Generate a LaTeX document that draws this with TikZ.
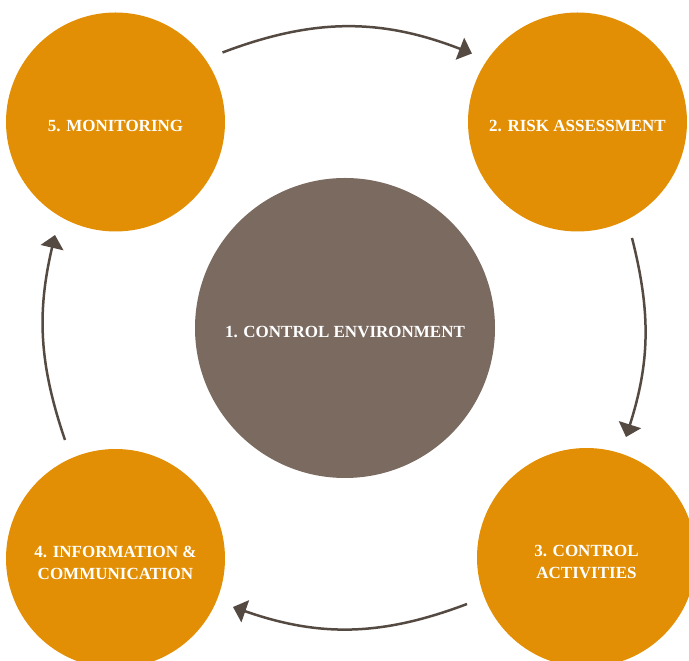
\documentclass[tikz,border=0pt]{standalone}
\usepackage{fontspec}
\setmainfont{Liberation Serif}
\usetikzlibrary{arrows.meta}

\definecolor{stepfill}{RGB}{227,143,5}
\definecolor{corefill}{RGB}{122,106,96}
\definecolor{arrowline}{RGB}{84,74,66}

\tikzset{stepball/.style={circle,fill=stepfill,minimum size=219pt,inner sep=0pt},
  steptext/.style={text=white,align=center,yshift=-4.5pt,
    font=\bfseries\fontsize{17}{22}\selectfont}}

\begin{document}
\begin{tikzpicture}[x=1pt,y=1pt]

      \useasboundingbox (0,0) rectangle (689,661);
      \clip (0,0) rectangle (689,661);

      \begin{scope}[every label/.style={steptext}]
        \node[stepball,label=center:{5. MONITORING}] (monitor) at (115.5,539) {};
        \node[stepball,label=center:{2. RISK ASSESSMENT}] (risk) at (577.5,539) {};
        \node[stepball,label=center:{3. CONTROL\\ACTIVITIES}] (activ) at (586.5,103.5) {};
        \node[stepball,label=center:{4. INFORMATION \&\\COMMUNICATION}] (info) at (115.5,102.5) {};
        \node[stepball,fill=corefill,minimum size=300pt,
          label=center:{1. CONTROL ENVIRONMENT}] (env) at (345,333) {};
      \end{scope}

      % free ends of the arrows
      \coordinate (m1) at (222.5,608.5);
      \coordinate (r1) at (472,607.5);
      \coordinate (r2) at (632,423);
      \coordinate (a1) at (626,224);
      \coordinate (a2) at (467,57);
      \coordinate (i1) at (233,54);
      \coordinate (i2) at (65,221);
      \coordinate (m2) at (55,426);

      \begin{scope}[every edge/.style={draw,arrowline,line width=2.5pt,
          -{Triangle[length=13pt,width=23pt]}}]
        \path (m1) edge[bend left=21] (r1);
        \path (r2) edge[bend left=16] (a1);
        \path (a2) edge[bend left=20] (i1);
        \path (i2) edge[bend left=16] (m2);
      \end{scope}

    \end{tikzpicture}
\end{document}
